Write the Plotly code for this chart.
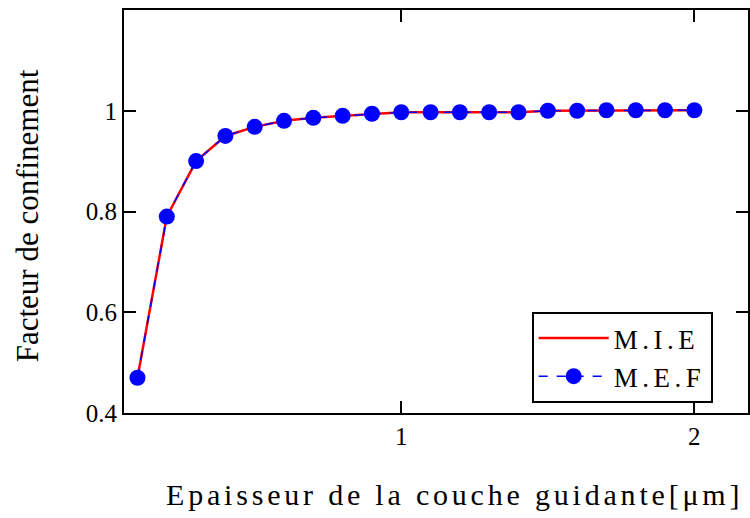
import plotly.graph_objects as go

thickness = [0.1, 0.2, 0.3, 0.4, 0.5, 0.6, 0.7, 0.8, 0.9, 1.0,
             1.1, 1.2, 1.3, 1.4, 1.5, 1.6, 1.7, 1.8, 1.9, 2.0]
mie = [0.47, 0.79, 0.90, 0.950, 0.968, 0.980, 0.986, 0.990, 0.994, 0.997,
       0.997, 0.997, 0.997, 0.997, 1.000, 1.000, 1.001, 1.001, 1.001, 1.001]
mef = [0.47, 0.79, 0.90, 0.950, 0.968, 0.980, 0.986, 0.990, 0.994, 0.997,
       0.997, 0.997, 0.997, 0.997, 1.000, 1.000, 1.001, 1.001, 1.001, 1.001]

FONT = "Liberation Serif, Times New Roman, serif"


def spaced(text, px):
    return f'<span style="letter-spacing:{px}px">{text}</span>'


fig = go.Figure()
fig.add_trace(go.Scatter(x=thickness, y=mie, mode="lines", name=spaced("M.I.E", 4.5),
                         line=dict(color="#ff0000", width=2.5)))
fig.add_trace(go.Scatter(x=thickness, y=mef, mode="lines+markers", name=spaced("M.E.F", 4.5),
                         line=dict(color="#0000ff", width=1.5, dash="dash"),
                         marker=dict(color="#0000ff", size=16, symbol="circle")))

axis_common = dict(showline=True, linecolor="black", linewidth=2, mirror="ticks",
                   ticks="inside", ticklen=12, tickwidth=2, tickcolor="black",
                   showgrid=False, zeroline=False,
                   tickfont=dict(family=FONT, size=25, color="black"))

fig.update_xaxes(range=[0.054, 2.183], tickvals=[1, 2], ticktext=["1", "2"],
                 ticklabelstandoff=0, **axis_common)
fig.update_yaxes(range=[0.4, 1.2], tickvals=[0.4, 0.6, 0.8, 1.0],
                 ticktext=["0.4", "0.6", "0.8", "1"], ticklabelstandoff=0, **axis_common)

fig.add_annotation(text=spaced("Epaisseur de la couche guidante[μm]", 3.8),
                   xref="paper", yref="paper",
                   x=(456 - 124) / 626, y=-(495 - 413) / 403, showarrow=False,
                   font=dict(family=FONT, size=30, color="black"),
                   xanchor="center", yanchor="middle")
fig.add_annotation(text="Facteur de confinement", xref="paper", yref="paper",
                   x=(28 - 124) / 626, y=(413 - 216) / 403, showarrow=False, textangle=-90,
                   font=dict(family=FONT, size=31, color="black"),
                   xanchor="center", yanchor="middle")

fig.update_layout(
    width=750, height=518,
    margin=dict(l=124, r=0, t=10, b=105),
    paper_bgcolor="white", plot_bgcolor="white",
    showlegend=True,
    legend=dict(x=(533 - 124) / 626, y=(413 - 312) / 403, xanchor="left", yanchor="top",
                bordercolor="black", borderwidth=2, bgcolor="white",
                font=dict(family=FONT, size=27, color="black"),
                itemwidth=70, tracegroupgap=0),
)

fig.write_html("out.html", config={"displayModeBar": False},
               post_script="document.body.style.margin='0';document.body.style.padding='0';")
